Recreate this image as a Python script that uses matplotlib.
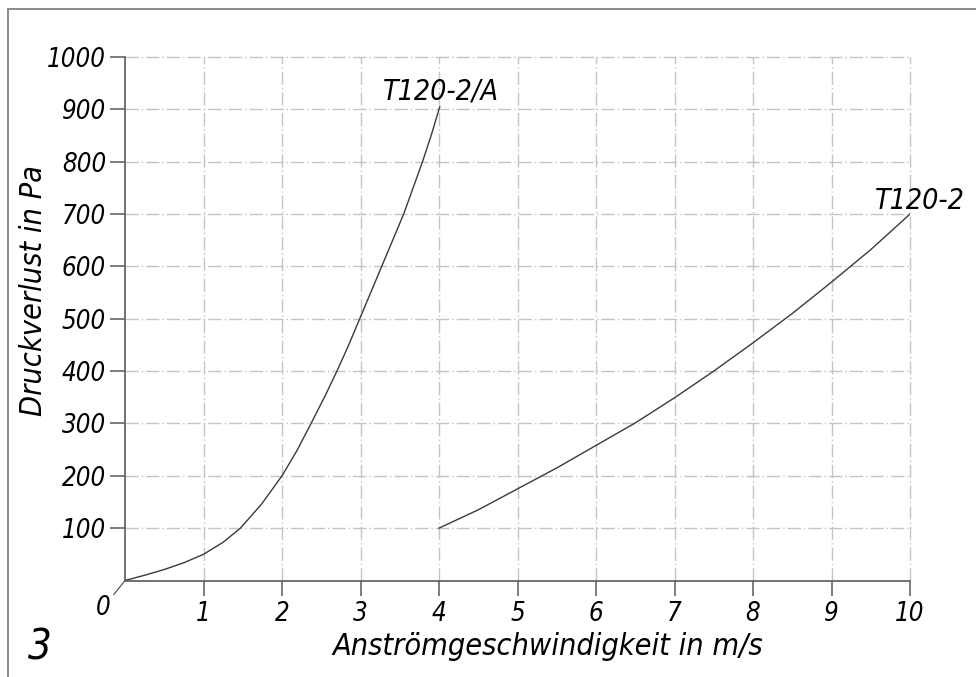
import matplotlib
matplotlib.use("Agg")
import matplotlib.pyplot as plt
from matplotlib import font_manager
from matplotlib.lines import Line2D

# T120-2/A (read where the curve crosses the grid lines)
speed_a = [0, 0.25, 0.5, 0.75, 1, 1.25, 1.47, 1.74, 2.0, 2.19, 2.37,
           2.54, 2.70, 2.85, 2.99, 3.27, 3.55, 3.79, 3.90, 4.01]
loss_a = [0, 10, 21, 34, 50, 73, 100, 146, 200, 248, 300,
          350, 400, 450, 500, 600, 700, 800, 850, 905]

# T120-2
speed_b = [4, 4.5, 5, 5.5, 6, 6.5, 7, 7.5, 8, 8.5, 9, 9.5, 10]
loss_b = [100, 135, 175, 215, 258, 301, 349, 400, 454, 510, 570, 632, 700]

x_ticks = [1, 2, 3, 4, 5, 6, 7, 8, 9, 10]
y_ticks = [100, 200, 300, 400, 500, 600, 700, 800, 900, 1000]

LINE = "#3a3a3a"
AXIS = "#5a5a5a"
GRID = "#c4c4c4"

names = {f.name for f in font_manager.fontManager.ttflist}
if "Liberation Sans Narrow" in names:
    FONT = dict(family="Liberation Sans Narrow", style="italic")
else:
    FONT = dict(family="DejaVu Sans", style="oblique", stretch="condensed")

fig = plt.figure(figsize=(9.76, 6.77), dpi=100)
ax = fig.add_axes([125 / 976, 96.5 / 677, 785 / 976, 523.5 / 677])

ax.plot(speed_a, loss_a, color=LINE, linewidth=1.0)
ax.plot(speed_b, loss_b, color=LINE, linewidth=1.0)

ax.set_xlim(0, 10)
ax.set_ylim(0, 1000)
ax.set_xticks(x_ticks)
ax.set_yticks(y_ticks)
ax.set_xticklabels([str(t) for t in x_ticks], fontsize=18.5, **FONT)
ax.set_yticklabels([str(t) for t in y_ticks], fontsize=18.5, **FONT)
ax.tick_params(direction="out", length=11, width=1.1, color=AXIS, pad=2.5)
ax.tick_params(axis="x", pad=4)

for side in ("top", "right"):
    ax.spines[side].set_visible(False)
for side in ("left", "bottom"):
    ax.spines[side].set_color(AXIS)
    ax.spines[side].set_linewidth(1.2)

ax.grid(True, color=GRID, linewidth=1.0, linestyle=(0, (9.5, 2.2, 1, 2.2)))
for gl in ax.get_xgridlines() + ax.get_ygridlines():
    gl.set_clip_on(False)
ax.set_axisbelow(True)

ax.annotate("0", xy=(0, 0), xytext=(-16, -20), textcoords="offset points",
            ha="center", va="center", fontsize=18.5, **FONT,
            arrowprops=dict(arrowstyle="-", color=AXIS, lw=0.9,
                            shrinkA=1, shrinkB=0))

ax.text(4.02, 919, "T120-2/A", ha="center", va="baseline", fontsize=20.5, **FONT)
ax.text(10.12, 709, "T120-2", ha="center", va="baseline", fontsize=20.5, **FONT)

fig.text(548 / 976, 1 - 655 / 677, "Anströmgeschwindigkeit in m/s",
         ha="center", va="baseline", fontsize=22, **FONT)
fig.text(34 / 976, 1 - 290 / 677, "Druckverlust in Pa", rotation=90,
         ha="center", va="center", fontsize=22, **FONT)
fig.text(40 / 976, 1 - 647 / 677, "3", ha="center", va="center",
         fontsize=30, **FONT)

# drawing frame
top = 1 - 9 / 677
left = 8 / 976
fig.add_artist(Line2D([left, 1], [top, top], color="#8a8a8a", linewidth=1.4))
fig.add_artist(Line2D([left, left], [0, top], color="#8a8a8a", linewidth=1.4))

fig.savefig("out.png", dpi=100)
